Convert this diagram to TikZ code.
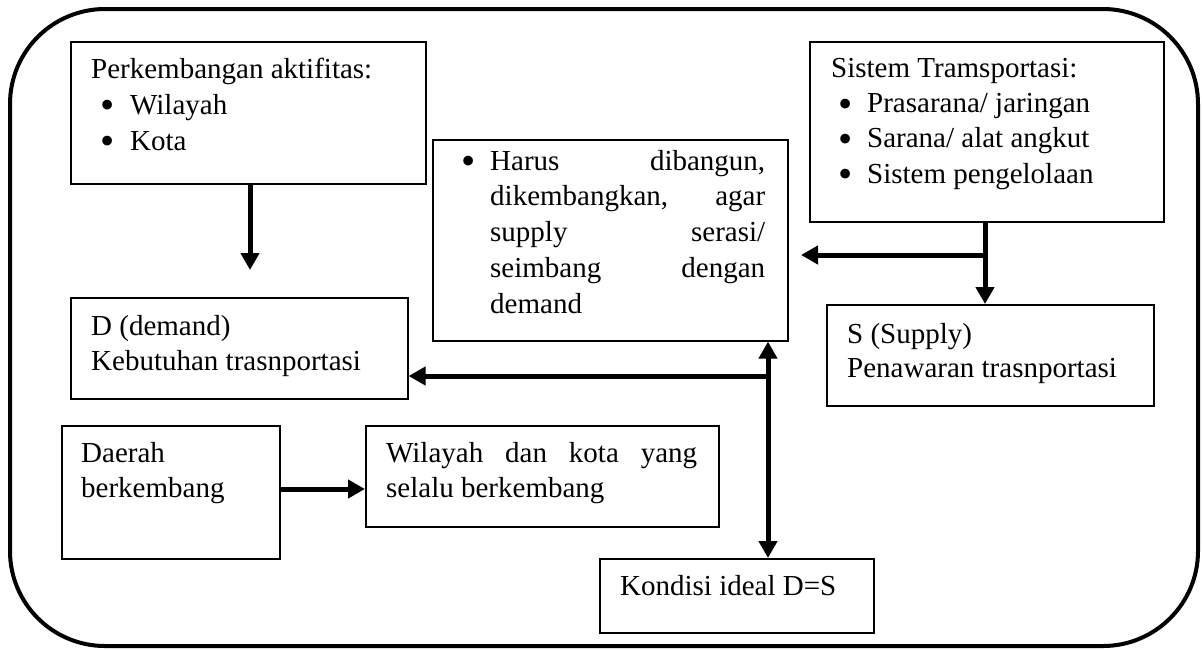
\documentclass[tikz,border=0pt]{standalone}
\usepackage{fontspec}
\setmainfont{Liberation Serif}
\usetikzlibrary{arrows.meta}
\newcommand{\mystrut}{\rule{0pt}{25pt}}
\newcommand{\bul}[2]{\makebox[#2][l]{\hspace*{#1}\smash{\raisebox{-4.6pt}{\scalebox{1.4}{\textbullet}}}}}
\begin{document}
\begin{tikzpicture}[x=1pt,y=-1pt,
  box/.style={draw, line width=1.6pt, inner sep=0pt, anchor=north west},
  txt/.style={inner sep=0pt, anchor=north west, align=left, font=\fontsize{29}{35.5}\selectfont},
  arr/.style={line width=5pt, -{Triangle[width=18pt,length=17pt]}},
  darr/.style={line width=5pt, {Triangle[width=18pt,length=17pt]}-{Triangle[width=18pt,length=17pt]}}]
\useasboundingbox (0,0) rectangle (1202,649);
\draw[line width=4pt, rounded corners=95pt] (10,9) rectangle (1198,646);
% boxes
\node[box, minimum width=355pt, minimum height=142pt] (b1) at (70,41) {};
\node[box, minimum width=355pt, minimum height=201pt] (harus) at (432,139) {};
\node[box, minimum width=354pt, minimum height=180pt] (sis) at (809,41) {};
\node[box, minimum width=337pt, minimum height=101pt] (D) at (70,297) {};
\node[box, minimum width=327pt, minimum height=101pt] (S) at (826,304) {};
\node[box, minimum width=218pt, minimum height=133pt] (daerah) at (61,425) {};
\node[box, minimum width=353pt, minimum height=101pt] (wil) at (365,425) {};
\node[box, minimum width=274pt, minimum height=74pt] (kon) at (599,558) {};
% texts
\node[txt, font=\fontsize{29}{36}\selectfont] (t1) at (91,53) {\mystrut Perkembangan aktifitas:\\ \bul{9pt}{39pt}Wilayah\\ \bul{9pt}{39pt}Kota};
\node[txt, font=\fontsize{29}{35.3}\selectfont] (t2) at (831,52) {\mystrut Sistem Tramsportasi:\\ \bul{7pt}{36pt}Prasarana/ jaringan\\ \bul{7pt}{36pt}Sarana/ alat angkut\\ \bul{7pt}{36pt}Sistem pengelolaan};
\node[txt, font=\fontsize{29}{35.7}\selectfont] (t3) at (490,145) {\mystrut\llap{\bul{-2pt}{27pt}}\hbox to 275pt{Harus\hfill dibangun,}\\ \hbox to 275pt{dikembangkan,\hfill agar}\\ \hbox to 275pt{supply\hfill serasi/}\\ \hbox to 275pt{seimbang\hfill dengan}\\ demand};
\node[txt] (t4) at (91,310) {\mystrut D (demand)\\ Kebutuhan trasnportasi};
\node[txt, font=\fontsize{29}{34.5}\selectfont] (t5) at (847,318) {\mystrut S (Supply)\\ Penawaran trasnportasi};
\node[txt] (t6) at (81,437) {\mystrut Daerah\\ berkembang};
\node[txt] (t7) at (386,437) {\mystrut\hbox to 311pt{Wilayah\hfill dan\hfill kota\hfill yang}\\ selalu berkembang};
\node[txt] (t8) at (620,570) {\mystrut Kondisi ideal D=S};
% connectors
\coordinate (a1) at (250,270);
\draw[arr] (b1.south -| a1) -- (a1);
\coordinate (sx) at (985,255);
\draw[arr] (sis.south -| sx) -- (S.north -| sx);
\coordinate (a2) at (801,255);
\draw[arr] (sx) -- (a2);
\coordinate (dx) at (768,376);
\draw[darr] (harus.south -| dx) -- (kon.north -| dx);
\draw[arr] (dx) -- (D.east |- dx);
\coordinate (ey) at (0,489);
\draw[arr] (daerah.east |- ey) -- (wil.west |- ey);
\end{tikzpicture}
\end{document}
